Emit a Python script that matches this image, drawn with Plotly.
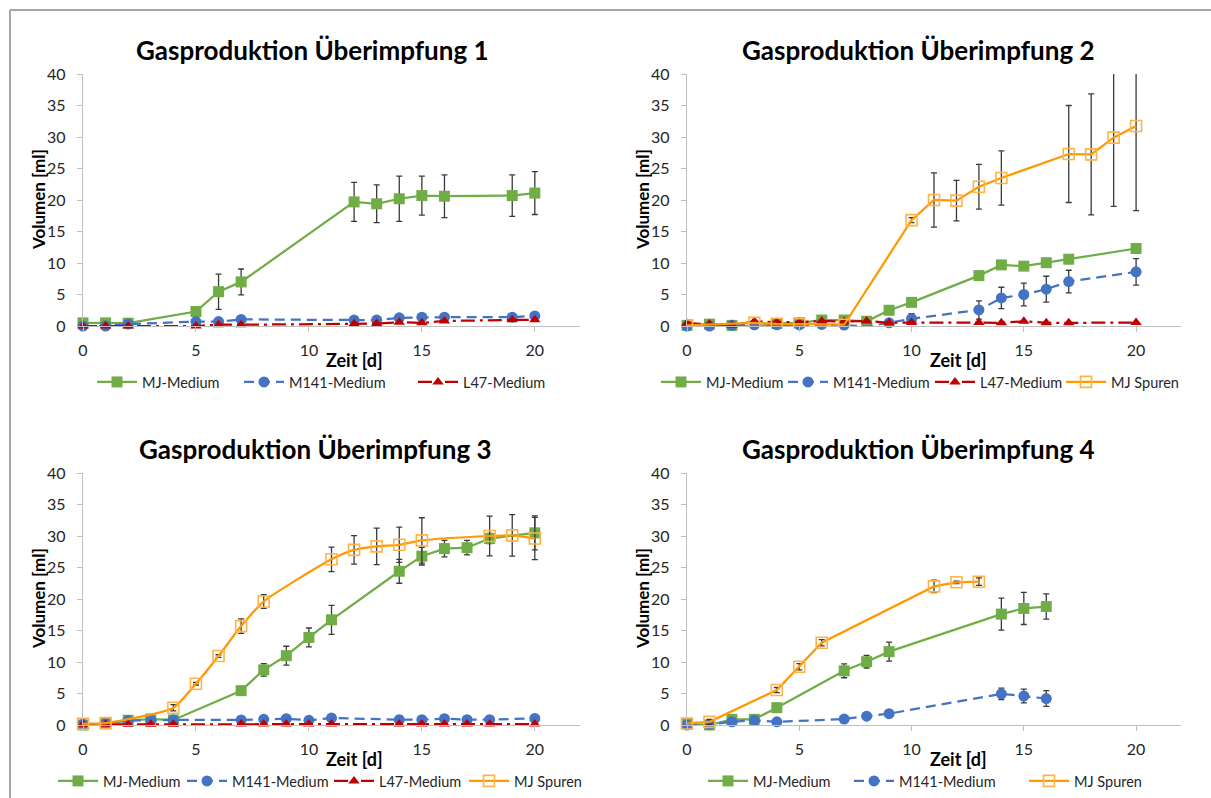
import plotly.graph_objects as go

W, H = 1211, 798

# ---------------- data ----------------
series_names = ["MJ-Medium", "M141-Medium", "L47-Medium", "MJ Spuren"]
titles = ["Gasproduktion Überimpfung 1", "Gasproduktion Überimpfung 2",
          "Gasproduktion Überimpfung 3", "Gasproduktion Überimpfung 4"]
x_ticks = [0, 5, 10, 15, 20]
y_ticks = [0, 5, 10, 15, 20, 25, 30, 35, 40]
x_title = "Zeit [d]"
y_title = "Volumen [ml]"

# Panel 1
p1_days = [0, 1, 2, 5, 6, 7, 12, 13, 14, 15, 16, 19, 20]
p1_mj = [0.5, 0.5, 0.45, 2.3, 5.45, 7.0, 19.7, 19.4, 20.2, 20.7, 20.6, 20.7, 21.1]
p1_mj_err = [None, None, None, None, 2.8, 2.05, 3.1, 3.0, 3.6, 3.1, 3.4, 3.3, 3.4]
p1_m141 = [0, 0, 0.3, 0.7, 0.7, 1.05, 0.95, 0.95, 1.3, 1.4, 1.4, 1.4, 1.6]
p1_l47 = [0, 0, 0, 0, 0.2, 0.2, 0.35, 0.4, 0.6, 0.5, 0.8, 1.0, 1.0]

# Panel 2
p2_days = [0, 1, 2, 3, 4, 5, 6, 7, 8, 9, 10, 13, 14, 15, 16, 17, 20]
p2_mj = [0.1, 0.3, 0.1, -0.1, 0.4, 0.5, 0.95, 0.95, 0.75, 2.5, 3.75, 8.0, 9.7, 9.5, 10.05, 10.6, 12.3]
p2_m141 = [0, 0, 0.1, 0.2, 0.2, 0.2, 0.25, 0.15, -0.1, 0.5, 1.15, 2.55, 4.45, 5.0, 5.85, 7.05, 8.6]
p2_m141_err = [None] * 10 + [0.8, 1.45, 1.7, 1.8, 2.05, 1.8, 2.1]
p2_l47 = [0.45, 0.3, 0.1, 0.75, 0.6, 0.6, 0.8, 0.7, 0.8, 0.5, 0.55, 0.55, 0.5, 0.75, 0.5, 0.5, 0.55]
p2_sp_days = [0, 3, 4, 5, 7, 10, 11, 12, 13, 14, 17, 18, 19, 20]
p2_sp = [0.1, 0.5, 0.35, 0.3, 0.2, 16.8, 20.0, 19.9, 22.1, 23.5, 27.3, 27.25, 29.9, 31.75]
p2_sp_err = [None] * 5 + [0.4, 4.3, 3.2, 3.55, 4.3, 7.7, 9.6, 10.9, 13.45]

# Panel 3
p3_days = [0, 1, 2, 3, 4, 7, 8, 9, 10, 11, 14, 15, 16, 17, 18, 20]
p3_mj = [0, 0.2, 0.75, 0.95, 0.8, 5.45, 8.75, 11.0, 13.9, 16.7, 24.4, 26.8, 28.0, 28.15, 29.6, 30.5]
p3_mj_err = [None] * 6 + [1.0, 1.5, 1.5, 2.3, 1.9, 1.4, 1.3, 1.15, 0.8, 2.7]
p3_m141 = [0.1, 0.3, 0.7, 0.8, 0.8, 0.8, 0.9, 1.0, 0.75, 1.1, 0.85, 0.85, 1.0, 0.85, 0.85, 1.05]
p3_l47 = [0.1, 0.1, 0.1, 0.1, 0.1, 0.15, 0.15, 0.15, 0.15, 0.15, 0.15, 0.15, 0.15, 0.15, 0.15, 0.15]
p3_sp_days = [0, 1, 4, 5, 6, 7, 8, 11, 12, 13, 14, 15, 18, 19, 20]
p3_sp = [0.2, 0.3, 2.75, 6.55, 10.95, 15.7, 19.6, 26.3, 27.8, 28.35, 28.6, 29.3, 30.0, 30.1, 29.6]
p3_sp_err = [None, None, 0.5, 0.2, 0.2, 1.15, 1.1, 1.95, 2.25, 2.9, 2.8, 3.6, 3.15, 3.3, 3.35]

# Panel 4
p4_days = [0, 1, 2, 3, 4, 7, 8, 9, 14, 15, 16]
p4_mj = [0.2, 0, 0.9, 0.9, 2.75, 8.6, 10.05, 11.65, 17.6, 18.5, 18.8]
p4_mj_err = [None] * 5 + [1.1, 1.0, 1.5, 2.55, 2.55, 2.0]
p4_m141 = [0, 0.1, 0.5, 0.75, 0.5, 0.95, 1.4, 1.8, 4.95, 4.6, 4.2]
p4_m141_err = [None] * 8 + [0.9, 1.1, 1.25]
p4_sp_days = [0, 1, 4, 5, 6, 11, 12, 13]
p4_sp = [0.25, 0.5, 5.55, 9.25, 13.05, 22.0, 22.65, 22.75]
p4_sp_err = [None, 0.4, 0.4, 0.5, 0.5, 1.0, 0.2, 0.6]

panels = [
    [("MJ-Medium", p1_days, p1_mj, p1_mj_err), ("M141-Medium", p1_days, p1_m141, None),
     ("L47-Medium", p1_days, p1_l47, None)],
    [("MJ-Medium", p2_days, p2_mj, None), ("M141-Medium", p2_days, p2_m141, p2_m141_err),
     ("L47-Medium", p2_days, p2_l47, None), ("MJ Spuren", p2_sp_days, p2_sp, p2_sp_err)],
    [("MJ-Medium", p3_days, p3_mj, p3_mj_err), ("M141-Medium", p3_days, p3_m141, None),
     ("L47-Medium", p3_days, p3_l47, None), ("MJ Spuren", p3_sp_days, p3_sp, p3_sp_err)],
    [("MJ-Medium", p4_days, p4_mj, p4_mj_err), ("M141-Medium", p4_days, p4_m141, p4_m141_err),
     ("MJ Spuren", p4_sp_days, p4_sp, p4_sp_err)],
]

# ---------------- styles ----------------
FONT = "Lato"
TXT = "#262626"
styles = {
    "MJ-Medium": dict(line=dict(color="#70AD47", width=2.25),
                      marker=dict(symbol="square", size=11, color="#70AD47")),
    "M141-Medium": dict(line=dict(color="#4472C4", width=2.25, dash="10px,6px"),
                        marker=dict(symbol="circle", size=11, color="#4472C4")),
    "L47-Medium": dict(line=dict(color="#C00000", width=2.25, dash="14px,5px,3px,5px"),
                       marker=dict(symbol="triangle-up", size=10, color="#C00000")),
    "MJ Spuren": dict(line=dict(color="#FF9900", width=2.25),
                      marker=dict(symbol="square-open", size=11, color="#FFB347",
                                  line=dict(width=1.6))),
}

# pixel geometry of each panel: (x0px, x22px, y0px, y40px)
geo = [(83, 580, 326, 74), (687, 1181, 326, 74), (83, 580, 725, 473), (687, 1181, 725, 473)]
title_pos = [(312, 50), (918, 50), (315, 449), (919, 449)]
xtitle_pos = [(355, 360), (958, 360), (355, 759), (958, 759)]
ytitle_pos = [(38, 200), (642, 200), (38, 599), (642, 599)]
legend_start = [(92, 382), (656, 382), (53, 781), (703, 781)]
legend_widths = [[92, 119, 80], [72, 92, 76, 70], [74, 92, 80, 70], [91, 120, 70]]

px = lambda v: v / W
py = lambda v: 1 - v / H

fig = go.Figure()
layout = dict(width=W, height=H, margin=dict(l=0, r=0, t=0, b=0, pad=0, autoexpand=False),
              paper_bgcolor="white", plot_bgcolor="white",
              font=dict(family=FONT, color=TXT))
annotations = []

for i, series in enumerate(panels):
    n = "" if i == 0 else str(i + 1)
    leg = "legend" if i == 0 else f"legend{i + 1}"
    for j, (name, xs, ys, err) in enumerate(series):
        st = styles[name]
        kw = {}
        if err is not None:
            kw["error_y"] = dict(type="data", array=err, visible=True, color="#3A3A3A",
                                 thickness=1.3, width=3)
        clip = (i == 1 and name == "MJ Spuren")
        smooth = (i == 2 and name == "MJ Spuren")
        line = dict(st["line"])
        if smooth:
            line["shape"] = "spline"
            line["smoothing"] = 0.6
        fig.add_trace(go.Scatter(
            x=xs, y=ys, name=name, mode="lines+markers",
            line=line, marker=st["marker"],
            xaxis="x" + n, yaxis="y" + n, legend=leg,
            legendwidth=legend_widths[i][j],
            cliponaxis=clip, **kw))
    x0p, x1p, y0p, y1p = geo[i]
    axstyle = dict(showline=True, linecolor="#BFBFBF", linewidth=1.3, ticks="outside",
                   ticklen=5, tickcolor="#BFBFBF", tickwidth=1.3, showgrid=False,
                   zeroline=False, tickfont=dict(family=FONT, size=16, color=TXT))
    layout["xaxis" + n] = dict(axstyle, range=[0, 22], tickvals=x_ticks,
                               domain=[px(x0p), px(x1p)], anchor="y" + n,
                               ticklabelstandoff=5)
    layout["yaxis" + n] = dict(axstyle, range=[0, 40], tickvals=y_ticks,
                               domain=[py(y0p), py(y1p)], anchor="x" + n,
                               ticklabelstandoff=8)
    lx, ly = legend_start[i]
    layout[leg] = dict(orientation="h", x=px(lx), y=py(ly), xanchor="left",
                       yanchor="middle", font=dict(family=FONT, size=14.5, color=TXT),
                       bgcolor="rgba(0,0,0,0)", tracegroupgap=0, itemwidth=40)
    tx, ty = title_pos[i]
    annotations.append(dict(text=f"<b>{titles[i]}</b>", x=px(tx), y=py(ty), xref="paper",
                            yref="paper", showarrow=False, xanchor="center", yanchor="middle",
                            font=dict(family=FONT, size=26, color="black")))
    xx, xy = xtitle_pos[i]
    annotations.append(dict(text=f"<b>{x_title}</b>", x=px(xx), y=py(xy), xref="paper",
                            yref="paper", showarrow=False, xanchor="center", yanchor="middle",
                            font=dict(family=FONT, size=18, color="black")))
    yx, yy = ytitle_pos[i]
    annotations.append(dict(text=f"<b>{y_title}</b>", x=px(yx), y=py(yy), xref="paper",
                            yref="paper", showarrow=False, xanchor="center", yanchor="middle",
                            textangle=-90, font=dict(family=FONT, size=17, color="black")))

layout["annotations"] = annotations
layout["shapes"] = [
    dict(type="line", xref="paper", yref="paper", x0=px(10), x1=1, y0=py(10), y1=py(10),
         line=dict(color="#A6A6A6", width=2)),
    dict(type="line", xref="paper", yref="paper", x0=px(10), x1=px(10), y0=py(10), y1=0,
         line=dict(color="#A6A6A6", width=2)),
]
layout["showlegend"] = True
fig.update_layout(**layout)

fig.write_html("out.html", include_plotlyjs=True,
               config={"displayModeBar": False},
               post_script="document.body.style.margin='0';")
